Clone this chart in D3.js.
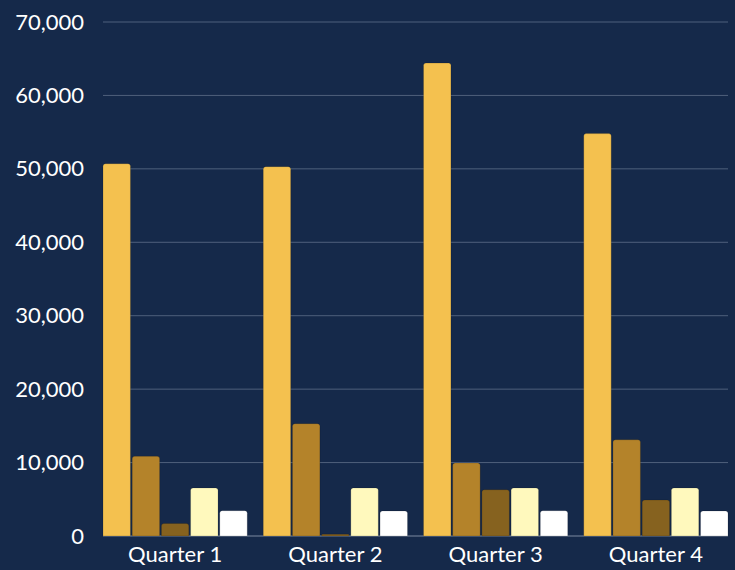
<!DOCTYPE html>
<meta charset="utf-8">
<script src="https://d3js.org/d3.v7.min.js"></script>
<style>
  body { margin: 0; background: #15294a; }
</style>
<div id="my_dataviz"></div>
<script>

// data
var quarters = ["Quarter 1", "Quarter 2", "Quarter 3", "Quarter 4"];
var seriesNames = ["s1", "s2", "s3", "s4", "s5"];
var s1 = [50700, 50300, 64400, 54800];
var s2 = [10850, 15300, 9950, 13100];
var s3 = [1700, 250, 6300, 4900];
var s4 = [6550, 6550, 6550, 6550];
var s5 = [3450, 3420, 3450, 3420];
var yTicks = [0, 10000, 20000, 30000, 40000, 50000, 60000, 70000];
var colors = ["#f4c14f", "#b4832a", "#86621f", "#fff9bd", "#ffffff"];

var series = [s1, s2, s3, s4, s5];

var W = 735, H = 570;
var margin = {top: 22, right: 7, bottom: 34, left: 103},
    width = W - margin.left - margin.right,
    height = H - margin.top - margin.bottom;

var svg = d3.select("#my_dataviz")
  .append("svg")
    .attr("width", W)
    .attr("height", H)
    .style("display", "block")
    .style("background", "#15294a")
  .append("g")
    .attr("transform", "translate(" + margin.left + "," + margin.top + ")");

var x = d3.scaleBand()
  .domain(quarters)
  .range([0, width])
  .paddingInner(0.1)
  .paddingOuter(0);

var xSub = d3.scaleBand()
  .domain(seriesNames)
  .range([0, x.bandwidth()])
  .paddingInner(0.06);

var y = d3.scaleLinear()
  .domain([0, 70000])
  .range([height, 0]);

// grid lines
svg.append("g")
  .selectAll("line")
  .data(yTicks)
  .enter()
  .append("line")
    .attr("x1", 0)
    .attr("x2", width)
    .attr("y1", function(d) { return y(d); })
    .attr("y2", function(d) { return y(d); })
    .attr("stroke", function(d) { return d === 0 ? "#7d8aa0" : "#4f607c"; })
    .attr("stroke-width", 1);

// y axis labels
var yAxis = svg.append("g")
  .call(d3.axisLeft(y).tickValues(yTicks).tickSize(0).tickPadding(19)
    .tickFormat(d3.format(",")));
yAxis.select(".domain").remove();
yAxis.selectAll("text")
  .attr("fill", "#ffffff")
  .style("font", "22px Lato, 'Noto Sans', sans-serif");

// x axis labels
var xAxis = svg.append("g")
  .attr("transform", "translate(0," + height + ")")
  .call(d3.axisBottom(x).tickSize(0).tickPadding(10));
xAxis.select(".domain").remove();
xAxis.selectAll("text")
  .attr("fill", "#ffffff")
  .style("font", "22px Lato, 'Noto Sans', sans-serif");

// bar with rounded top corners
function barPath(x0, y0, w, h) {
  var r = Math.min(2.5, h / 2, w / 2);
  return "M" + x0 + "," + (y0 + h) +
    "V" + (y0 + r) +
    "Q" + x0 + "," + y0 + " " + (x0 + r) + "," + y0 +
    "H" + (x0 + w - r) +
    "Q" + (x0 + w) + "," + y0 + " " + (x0 + w) + "," + (y0 + r) +
    "V" + (y0 + h) + "Z";
}

svg.append("g")
  .selectAll("g")
  .data(quarters)
  .enter()
  .append("g")
    .attr("transform", function(d) { return "translate(" + x(d) + ",0)"; })
  .selectAll("path")
  .data(function(d, i) { return seriesNames.map(function(k, j) { return {key: k, value: series[j][i], c: colors[j]}; }); })
  .enter()
  .append("path")
    .attr("d", function(d) { return barPath(xSub(d.key), y(d.value), xSub.bandwidth(), height - y(d.value)); })
    .attr("fill", function(d) { return d.c; })
    .attr("stroke", "rgba(0,0,0,0.25)")
    .attr("stroke-width", 0.6);

</script>
